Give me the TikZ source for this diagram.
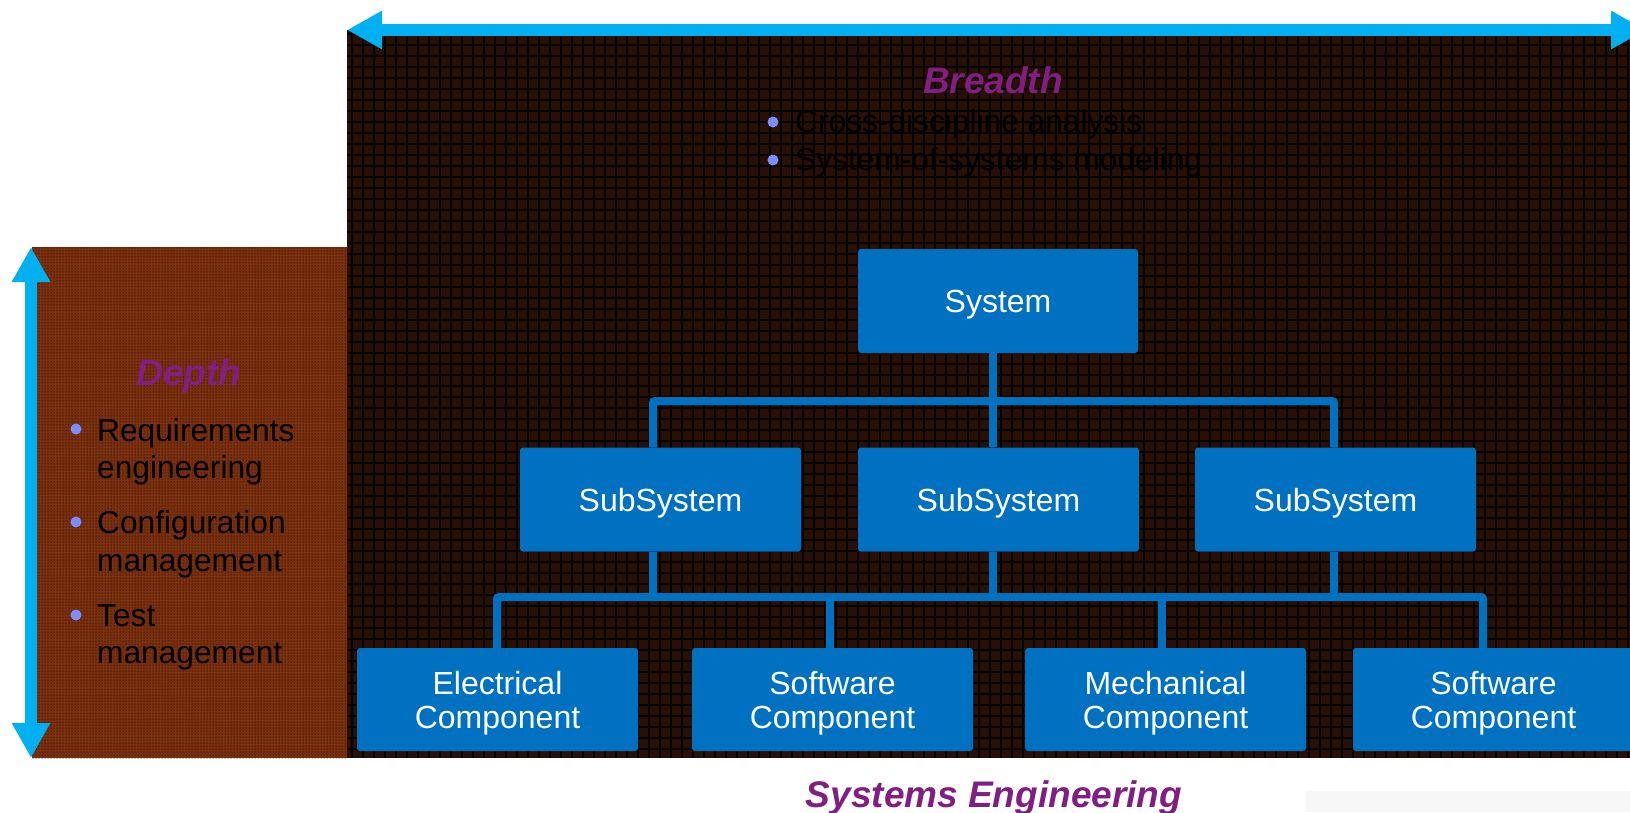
\documentclass[tikz,border=0pt]{standalone}
\usepackage{fontspec}
\setmainfont{Liberation Sans}
\usetikzlibrary{arrows.meta,patterns}
\definecolor{darkbg}{RGB}{40,16,5}
\definecolor{brownbg}{RGB}{122,48,14}
\definecolor{arrowblue}{RGB}{0,176,240}
\definecolor{boxblue}{RGB}{0,112,192}
\definecolor{titlepurple}{RGB}{128,30,130}
\definecolor{bulletblue}{RGB}{122,140,255}
\definecolor{panelgray}{RGB}{247,247,247}
\tikzset{
  box/.style={fill=boxblue, rounded corners=3pt, minimum width=281pt, minimum height=104pt,
    text=white, font=\fontsize{32}{34}\selectfont, align=center, inner sep=0pt, text depth=0pt},
  conn/.style={draw=boxblue, line width=8pt, rounded corners=2pt},
  bigarrow/.style={draw=arrowblue, line width=12pt,
    {Triangle[length=35pt,width=36pt,fill=arrowblue]}-{Triangle[length=35pt,width=36pt,fill=arrowblue]}},
  titletext/.style={text=titlepurple, font=\fontsize{37}{42}\selectfont\bfseries\itshape, inner sep=0pt},
  itemtext/.style={text=black, font=\fontsize{31.7}{37}\selectfont, inner sep=0pt, anchor=base west},
  bulletdot/.style={circle, fill=bulletblue, minimum size=11pt, inner sep=0pt},
}
\begin{document}
\begin{tikzpicture}[x=1pt,y=-1pt]
\useasboundingbox (0,0) rectangle (1630,812);
% backgrounds
\fill[panelgray] (1306,791) rectangle (1630,812);
\fill[brownbg] (32,247) rectangle (347,758);
\fill[pattern=dots, pattern color=black] (32,247) rectangle (347,758);
\fill[darkbg] (347,30) rectangle (1630,758);
\begin{scope}
\clip (347,30) rectangle (1630,758);
\foreach \x in {352,363,...,1630} \draw[black, line width=1.3pt, opacity=0.85] (\x,30) -- (\x,758);
\foreach \y in {34,45,...,758} \draw[black, line width=1.3pt, opacity=0.85] (347,\y) -- (1630,\y);
\end{scope}
% arrows
\coordinate (hl) at (347,30);
\coordinate (hr) at (1646,30);
\draw[bigarrow] (hl) -- (hr);
\coordinate (vt) at (31,247);
\coordinate (vb) at (31,758);
\draw[bigarrow] (vt) -- (vb);
% boxes
\node[box, minimum width=280pt] (sys) at (998,301) {System};
\node[box] (sub1) at (660.5,499.5) {SubSystem};
\node[box] (sub2) at (998.5,499.5) {SubSystem};
\node[box] (sub3) at (1335.5,499.5) {SubSystem};
\node[box, minimum height=103pt] (c1) at (497.5,699.5) {Electrical\\Component};
\node[box, minimum height=103pt] (c2) at (832.5,699.5) {Software\\Component};
\node[box, minimum height=103pt] (c3) at (1165.5,699.5) {Mechanical\\Component};
\node[box, minimum height=103pt] (c4) at (1493.5,699.5) {Software\\Component};
% connectors
\coordinate (busA) at (993,401);
\coordinate (busB) at (993,597);
\draw[conn] ([xshift=-5pt]sys.south) -- ([xshift=-5pt]sys.south |- busA);
\draw[conn] ([xshift=-7.5pt]sub1.north) |- (busA) -| ([xshift=-1.5pt]sub3.north);
\draw[conn] ([xshift=-5.5pt]sub2.north) -- ([xshift=-5.5pt]sub2.north |- busA);
\draw[conn] ([xshift=-7.5pt]sub1.south) -- ([xshift=-7.5pt]sub1.south |- busB);
\draw[conn] ([xshift=-5.5pt]sub2.south) -- ([xshift=-5.5pt]sub2.south |- busB);
\draw[conn] ([xshift=-1.5pt]sub3.south) -- ([xshift=-1.5pt]sub3.south |- busB);
\draw[conn] ([xshift=-0.5pt]c1.north) |- (busB) -| ([xshift=-10.5pt]c4.north);
\draw[conn] ([xshift=-2.5pt]c2.north) -- ([xshift=-2.5pt]c2.north |- busB);
\draw[conn] ([xshift=-3.5pt]c3.north) -- ([xshift=-3.5pt]c3.north |- busB);
% breadth text
\node[titletext, anchor=base] (breadth) at (993,93) {Breadth};
\node[bulletdot] (bb1) at (773,122) {};
\node[itemtext] (bt1) at (795,132) {Cross-discipline analysis};
\node[bulletdot] (bb2) at (773,160) {};
\node[itemtext] (bt2) at (795,170) {System-of-systems modeling};
% depth text
\node[titletext, anchor=base] (depth) at (189,385) {Depth};
\node[bulletdot] (db1) at (76,429) {};
\node[itemtext] (dt1a) at (97,441) {Requirements};
\node[itemtext] (dt1b) at (97,478) {engineering};
\node[bulletdot] (db2) at (76,522) {};
\node[itemtext] (dt2a) at (97,533) {Configuration};
\node[itemtext] (dt2b) at (97,571) {management};
\node[bulletdot] (db3) at (76,615) {};
\node[itemtext] (dt3a) at (97,626) {Test};
\node[itemtext] (dt3b) at (97,663) {management};
% footer
\node[titletext, anchor=base] (se) at (994,807) {Systems Engineering};
\end{tikzpicture}
\end{document}
